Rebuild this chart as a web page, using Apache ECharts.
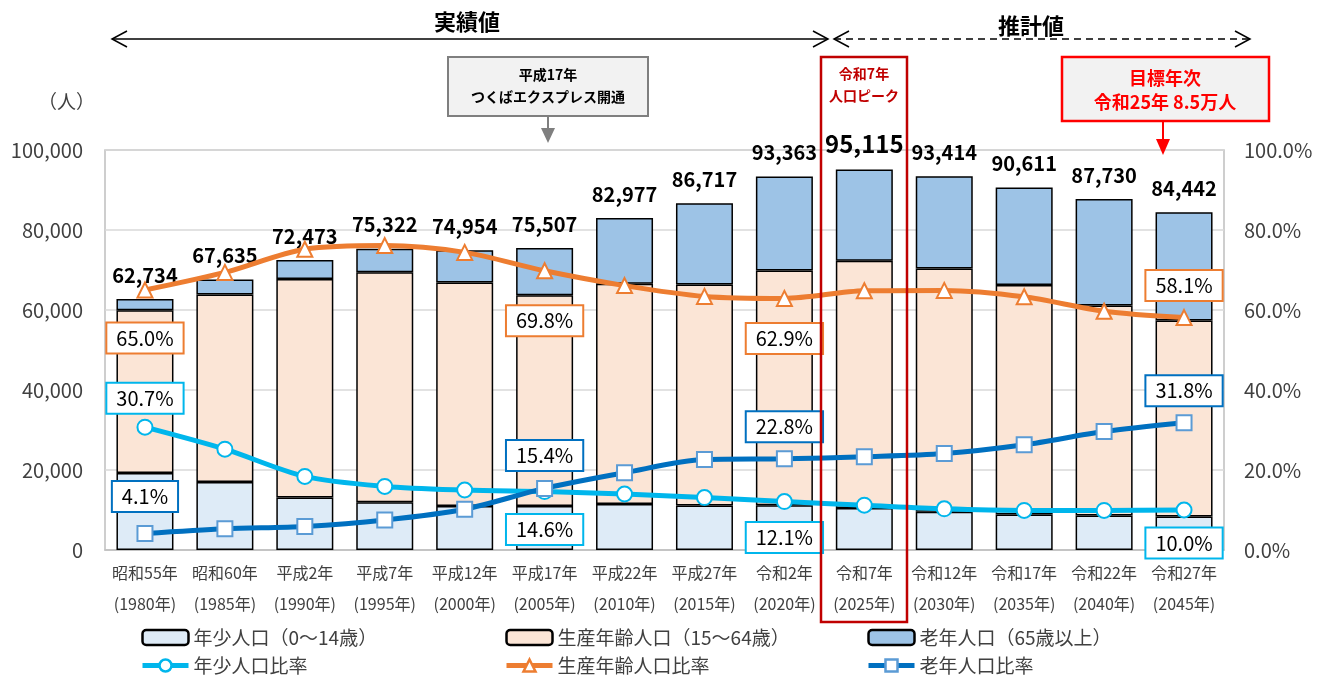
<!DOCTYPE html>
<html><head><meta charset="utf-8">
<script src="https://cdn.jsdelivr.net/npm/echarts@6/dist/echarts.min.js"></script>
<style>html,body{margin:0;padding:0;background:#fff;}#c{width:1328px;height:677px;}</style>
</head><body><div id="c"></div>
<script>
const categories = ['昭和55年\n(1980年)','昭和60年\n(1985年)','平成2年\n(1990年)','平成7年\n(1995年)','平成12年\n(2000年)','平成17年\n(2005年)','平成22年\n(2010年)','平成27年\n(2015年)','令和2年\n(2020年)','令和7年\n(2025年)','令和12年\n(2030年)','令和17年\n(2035年)','令和22年\n(2040年)','令和27年\n(2045年)'];
const youngPop   = [19260, 17000, 13100, 11950, 11000, 11000, 11500, 11150, 11200, 10500, 9550, 8900, 8650, 8400];
const workingPop = [40700, 46900, 54650, 57500, 55900, 52700, 55050, 55200, 58700, 61800, 60800, 57350, 52500, 49000];
const elderlyPop = [2774, 3735, 4723, 5872, 8054, 11807, 16427, 20367, 23463, 22815, 23064, 24361, 26580, 27042];
const totalPop   = [62734, 67635, 72473, 75322, 74954, 75507, 82977, 86717, 93363, 95115, 93414, 90611, 87730, 84442];
const youngRatio   = [30.7, 25.2, 18.4, 15.9, 15.0, 14.6, 14.0, 13.1, 12.1, 11.2, 10.3, 9.9, 9.9, 10.0];
const workingRatio = [65.0, 69.4, 75.2, 76.1, 74.4, 69.8, 66.1, 63.4, 62.9, 64.8, 64.9, 63.3, 59.7, 58.1];
const elderlyRatio = [4.1, 5.3, 5.9, 7.5, 10.2, 15.4, 19.3, 22.6, 22.8, 23.3, 24.1, 26.3, 29.6, 31.8];
const leftTicks = [0, 20000, 40000, 60000, 80000, 100000];
const labeledIdx = [0, 5, 8, 13];

const FONT = '"Noto Sans CJK JP", "Noto Sans", sans-serif';
const C_YOUNG = '#00B6EC', C_WORK = '#ED7D31', C_OLD = '#0070C0';

function ratioData(arr, color, offsets) {
  return arr.map((v, i) => {
    const k = labeledIdx.indexOf(i);
    if (k < 0) return v;
    return { value: v, label: {
      show: true, position: 'inside', offset: [0, offsets[k]],
      formatter: (p) => p.value.toFixed(1) + '%',
      color: '#000', fontSize: 20, fontFamily: FONT,
      backgroundColor: '#fff', borderColor: color, borderWidth: 2,
      padding: [5, 9, 4, 9]
    }};
  });
}

const chart = echarts.init(document.getElementById('c'));
const barBase = { type: 'bar', stack: 'pop', barWidth: 57, yAxisIndex: 0,
  itemStyle: { borderColor: '#000', borderWidth: 1.5 } };
const lineBase = { type: 'line', yAxisIndex: 1, smooth: 0.3, symbolSize: 15, z: 5,
  emphasis: { disabled: true } };
const legendBase = { top: 628, orient: 'vertical', itemGap: 9, itemWidth: 46, itemHeight: 15,
  padding: 0, height: 60, lineStyle: { width: 5 }, itemStyle: { borderWidth: 2.5 },
  textStyle: { fontSize: 19, color: '#404040', fontFamily: FONT } };

chart.setOption({
  animation: false,
  textStyle: { fontFamily: FONT },
  grid: { left: 105, right: 104, top: 150, height: 400, show: true, borderColor: '#BFBFBF', borderWidth: 1.5 },
  xAxis: { type: 'category', data: categories,
    axisLine: { show: true, lineStyle: { color: '#BFBFBF', width: 1.5 } },
    axisTick: { show: false },
    axisLabel: { color: '#404040', fontSize: 16, lineHeight: 31, margin: 7, interval: 0, fontFamily: FONT } },
  yAxis: [
    { type: 'value', min: leftTicks[0], max: leftTicks[leftTicks.length - 1], interval: 20000,
      axisLine: { show: false }, axisTick: { show: false },
      splitLine: { lineStyle: { color: '#D9D9D9', width: 1.5 } },
      axisLabel: { color: '#404040', fontSize: 20, margin: 22,
        formatter: (v) => v.toLocaleString('en-US') } },
    { type: 'value', min: 0, max: 100, interval: 20, position: 'right',
      axisLine: { show: false }, axisTick: { show: false }, splitLine: { show: false },
      axisLabel: { color: '#404040', fontSize: 20, margin: 20,
        formatter: (v) => v.toFixed(1) + '%' } }
  ],
  legend: [
    Object.assign({}, legendBase, { left: 140, data: ['年少人口（0～14歳）', '年少人口比率'] }),
    Object.assign({}, legendBase, { left: 504, data: ['生産年齢人口（15～64歳）', '生産年齢人口比率'] }),
    Object.assign({}, legendBase, { left: 866, data: ['老年人口（65歳以上）', '老年人口比率'] })
  ],
  series: [
    Object.assign({}, barBase, { name: '年少人口（0～14歳）', data: youngPop,
      itemStyle: { color: '#DEEBF7', borderColor: '#000', borderWidth: 1.5 } }),
    Object.assign({}, barBase, { name: '生産年齢人口（15～64歳）', data: workingPop,
      itemStyle: { color: '#FBE5D6', borderColor: '#000', borderWidth: 1.5 } }),
    Object.assign({}, barBase, { name: '老年人口（65歳以上）',
      data: elderlyPop.map((v, i) => i === 9 ? { value: v, label: { fontSize: 24 } } : v),
      itemStyle: { color: '#9DC3E6', borderColor: '#000', borderWidth: 1.5 },
      label: { show: true, position: 'top', distance: 14, color: '#000', fontWeight: 'bold',
        fontSize: 20, fontFamily: FONT,
        formatter: (p) => totalPop[p.dataIndex].toLocaleString('en-US') } }),
    Object.assign({}, lineBase, { name: '年少人口比率', symbol: 'circle',
      data: ratioData(youngRatio, C_YOUNG, [-29, 38, 36, 33]),
      lineStyle: { color: C_YOUNG, width: 5 },
      itemStyle: { color: '#fff', borderColor: C_YOUNG, borderWidth: 2 } }),
    Object.assign({}, lineBase, { name: '生産年齢人口比率', symbol: 'triangle',
      data: ratioData(workingRatio, C_WORK, [48, 50, 40, -32]),
      lineStyle: { color: C_WORK, width: 5 },
      itemStyle: { color: '#fff', borderColor: C_WORK, borderWidth: 2 } }),
    Object.assign({}, lineBase, { name: '老年人口比率', symbol: 'rect',
      data: ratioData(elderlyRatio, C_OLD, [-37, -33, -32, -32]),
      lineStyle: { color: C_OLD, width: 5 },
      itemStyle: { color: '#fff', borderColor: '#5B9BD5', borderWidth: 2 } })
  ],
  graphic: [
    { type: 'text', left: 38, top: 92, z: 100, style: { text: '（人）', fill: '#404040', font: '19px ' + FONT } },
    { type: 'text', x: 467, y: 22, z: 100, style: { text: '実績値', font: 'bold 22px ' + FONT, fill: '#000', align: 'center', verticalAlign: 'middle' } },
    { type: 'line', z: 100, shape: { x1: 112, y1: 39, x2: 828, y2: 39 }, style: { stroke: '#000', lineWidth: 1.5 } },
    { type: 'polyline', z: 100, shape: { points: [[127, 31], [112, 39], [127, 47]] }, style: { stroke: '#000', lineWidth: 1.5, fill: null } },
    { type: 'polyline', z: 100, shape: { points: [[813, 31], [828, 39], [813, 47]] }, style: { stroke: '#000', lineWidth: 1.5, fill: null } },
    { type: 'line', z: 100, shape: { x1: 834, y1: 39, x2: 1250, y2: 39 }, style: { stroke: '#000', lineWidth: 1.5, lineDash: [7, 5] } },
    { type: 'polyline', z: 100, shape: { points: [[849, 31], [834, 39], [849, 47]] }, style: { stroke: '#000', lineWidth: 1.5, fill: null } },
    { type: 'polyline', z: 100, shape: { points: [[1235, 31], [1250, 39], [1235, 47]] }, style: { stroke: '#000', lineWidth: 1.5, fill: null } },
    { type: 'text', x: 1031, y: 26, z: 101, style: { text: '推計値', font: 'bold 22px ' + FONT, fill: '#000', align: 'center', verticalAlign: 'middle', backgroundColor: '#fff', padding: [0, 2] } },
    { type: 'rect', z: 100, shape: { x: 448, y: 57, width: 200, height: 59 }, style: { fill: '#F2F2F2', stroke: '#7F7F7F', lineWidth: 2 } },
    { type: 'text', x: 548, y: 75, z: 101, style: { text: '平成17年', font: 'bold 14px ' + FONT, fill: '#000', align: 'center', verticalAlign: 'middle' } },
    { type: 'text', x: 548, y: 97, z: 101, style: { text: 'つくばエクスプレス開通', font: 'bold 14px ' + FONT, fill: '#000', align: 'center', verticalAlign: 'middle' } },
    { type: 'line', z: 100, shape: { x1: 548, y1: 116, x2: 548, y2: 130 }, style: { stroke: '#7F7F7F', lineWidth: 2 } },
    { type: 'polygon', z: 100, shape: { points: [[541, 128], [555, 128], [548, 143]] }, style: { fill: '#7F7F7F' } },
    { type: 'rect', z: 100, shape: { x: 821, y: 57, width: 86, height: 565 }, style: { fill: null, stroke: '#C00000', lineWidth: 2.5 } },
    { type: 'text', x: 864, y: 74, z: 101, style: { text: '令和7年', font: 'bold 14px ' + FONT, fill: '#C00000', align: 'center', verticalAlign: 'middle' } },
    { type: 'text', x: 864, y: 96, z: 101, style: { text: '人口ピーク', font: 'bold 14px ' + FONT, fill: '#C00000', align: 'center', verticalAlign: 'middle' } },
    { type: 'rect', z: 100, shape: { x: 1062, y: 57, width: 207, height: 64 }, style: { fill: '#F2F2F2', stroke: '#FF0000', lineWidth: 2.5 } },
    { type: 'text', x: 1165, y: 78, z: 101, style: { text: '目標年次', font: 'bold 18px ' + FONT, fill: '#FF0000', align: 'center', verticalAlign: 'middle' } },
    { type: 'text', x: 1165, y: 102, z: 101, style: { text: '令和25年 8.5万人', font: 'bold 18px ' + FONT, fill: '#FF0000', align: 'center', verticalAlign: 'middle' } },
    { type: 'line', z: 100, shape: { x1: 1163, y1: 121, x2: 1163, y2: 141 }, style: { stroke: '#FF0000', lineWidth: 2 } },
    { type: 'polygon', z: 100, shape: { points: [[1156, 139], [1170, 139], [1163, 155]] }, style: { fill: '#FF0000' } }
  ]
});
</script></body></html>
